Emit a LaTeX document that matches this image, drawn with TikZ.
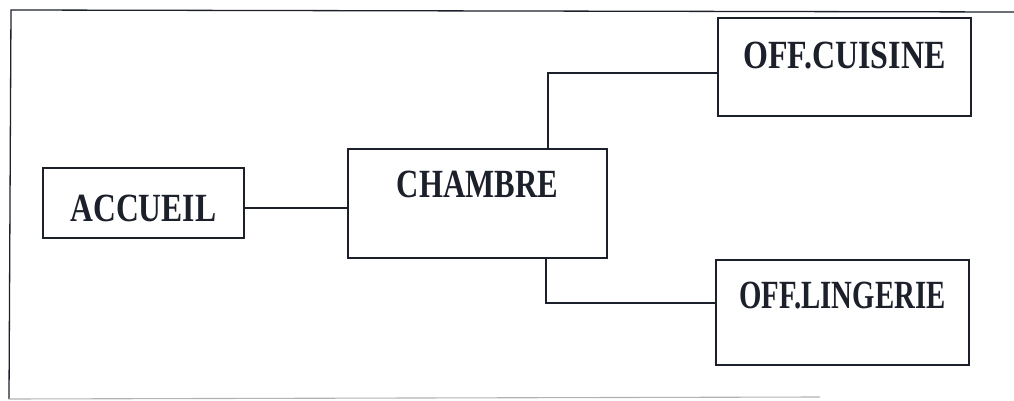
\documentclass[tikz,border=0pt]{standalone}
\usepackage{fontspec}
\setmainfont{Liberation Serif}
\definecolor{inkc}{RGB}{28,32,42}
\tikzset{
  box/.style={draw=inkc, line width=1.8pt, rectangle, inner xsep=0pt, inner ysep=0pt,
    anchor=north west, font=\fontsize{40}{40}\selectfont\bfseries, text=inkc},
  conn/.style={draw=inkc, line width=1.4pt},
}
\newcommand{\lbl}[2]{\scalebox{#1}[1]{#2}}
\begin{document}
\begin{tikzpicture}[x=1pt,y=-1pt]
\useasboundingbox (0,0) rectangle (1014,401);
% frame
\draw[inkc, line width=1.3pt] (1014,12) -- (11,10) -- (9,399);
\draw[gray!60, line width=1.1pt] (9,399) -- (820,397);
% boxes
\node[box, minimum width=201, minimum height=70, text height=54, text depth=16] (acc) at (42,167) {\lbl{0.79}{ACCUEIL}};
\node[box, minimum width=259, minimum height=109, text height=49, text depth=60] (cha) at (347,148) {\lbl{0.77}{CHAMBRE}};
\node[box, minimum width=253, minimum height=98, text height=51, text depth=47] (cui) at (717,17) {\lbl{0.80}{OFF.CUISINE}};
\node[box, minimum width=253, minimum height=105, text height=49, text depth=56] (lin) at (715,259) {\lbl{0.72}{OFF.LINGERIE}};
% connectors
\draw[conn] (acc.east |- 0,208) -- (cha.west |- 0,208);
\draw[conn] (cha.north -| 548,0) |- (cui.west |- 0,73);
\draw[conn] (cha.south -| 546,0) |- (lin.west |- 0,303);
\end{tikzpicture}
\end{document}
